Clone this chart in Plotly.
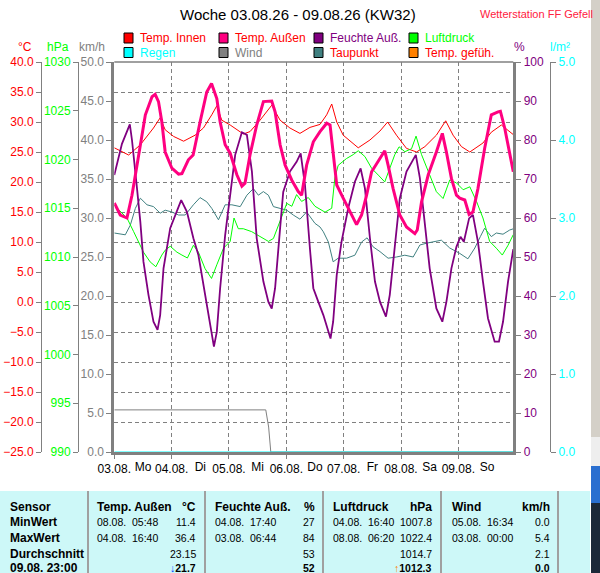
import plotly.graph_objects as go

W, H = 600, 573

std_aussen = [0, 2.5, 5.3, 7.4, 9.5, 10.9, 13.0, 15.8, 17.1, 18.5, 19.9, 21.3, 24.1, 26.9, 28.3,
              31.0, 33.0, 35.9, 38.7, 40.7, 42.9, 44.3, 46.4, 48.5, 51.3, 53.4, 54.7, 56.8, 59.6,
              62.4, 65.9, 67.3, 69.4, 71.5, 74.3, 77.0, 78.4, 80.5, 83.3, 86.1, 88.9, 90.3, 91.6,
              93.1, 95.8, 98.6, 101.4, 103.5, 105.6, 107.7, 110.5, 113.2, 114.6, 116.7, 119.5,
              122.3, 125.8, 126.8, 128.6, 131.4, 134.8, 137.3, 139.0, 141.1, 143.2, 144.6, 146.7,
              148.5, 150.1, 152.2, 155.0, 157.8, 160.6, 161.6, 163.4, 165.5, 167.0]
temp_aussen = [16.5, 14.5, 14.0, 17.8, 22.8, 26.2, 31.2, 34.2, 34.6, 33.4, 30.0, 25.0, 22.3, 21.3, 21.4,
               23.7, 24.5, 30.0, 35.0, 36.4, 33.9, 30.0, 26.2, 24.8, 21.2, 19.3, 19.8, 24.5, 29.5,
               33.4, 33.5, 31.7, 26.2, 22.8, 20.3, 18.4, 17.8, 22.8, 26.7, 28.4, 29.8, 29.5, 24.5,
               19.5, 17.3, 15.0, 12.9, 14.5, 17.8, 21.7, 23.4, 25.2, 22.8, 18.9, 14.5,
               12.5, 11.4, 12.0, 16.7, 21.2, 25.0, 28.1, 25.0, 20.6, 17.8, 17.3, 17.0,
               14.6, 15.0, 18.9, 25.6, 31.2, 31.7, 31.8, 29.0, 25.0, 21.7]

std_innen = [0, 6.0, 10.9, 16.4, 19.2, 21.3, 24.8, 29.0, 33.8, 37.3, 40.8, 42.9, 45.0, 48.5, 54.0,
             56.8, 61.0, 65.9, 69.4, 73.5, 77.7, 81.9, 86.1, 88.9, 91.0, 93.1, 95.8, 102.1, 107.0,
             111.2, 114.4, 118.1, 122.3, 126.5, 130.0, 134.8, 138.7, 141.8, 145.3, 148.8, 154.3,
             157.8, 162.0, 167.0]
temp_innen = [25.7, 24.5, 26.2, 29.0, 30.7, 28.7, 27.6, 26.8, 27.8, 29.0, 31.2, 32.7, 30.3, 29.5, 28.0,
              28.4, 30.3, 32.8, 30.3, 29.0, 28.1, 29.1, 29.6, 31.2, 33.0, 30.0, 27.8, 25.7, 27.0,
              28.5, 30.0, 27.8, 25.6, 25.0, 25.9, 27.8, 30.2, 27.8, 25.9, 25.0, 26.5,
              28.3, 29.5, 27.9]

std_feuchte = [0, 3.2, 6.5, 7.4, 9.5, 10.9, 12.2, 14.3, 16.4, 18.1, 19.2, 20.6, 23.4, 25.5, 28.0,
               30.4, 33.1, 35.2, 38.0, 40.1, 41.7, 42.9, 44.3, 46.4, 48.5, 50.6, 53.4, 55.5, 57.6,
               59.6, 62.4, 64.5, 65.9, 67.3, 69.4, 70.7, 73.5, 76.3, 78.0, 79.8, 81.9, 83.3, 85.4,
               87.5, 90.5, 91.6, 93.1, 95.1, 97.9, 100.7, 103.1, 104.9, 107.0, 109.1, 111.2, 113.7,
               115.3, 117.4, 119.5, 122.3, 126.2, 127.9, 130.0, 132.0, 134.8, 137.3, 139.0, 141.1,
               143.2, 144.9, 146.3, 148.5, 150.1, 152.2, 154.3, 156.4, 159.2, 161.0, 162.7, 164.8,
               167.0]
feuchte = [71, 79, 84, 80, 67.6, 59, 48.8, 40.3, 33.4, 31.3, 35.1, 47.1, 57.4, 60.8, 64.6,
           61.6, 54.8, 50.5, 40.3, 31.7, 27, 30.8, 42, 55.6, 65.9, 76.2, 82, 81.3, 71.9,
           54.8, 43.7, 38.5, 36.8, 42, 57.4, 66.7, 71.9, 74.4, 76.6, 68.5, 52, 42, 38.5,
           35.1, 29.1, 33.4, 45.4, 53.9, 62.5, 69.3, 72.7, 67.6, 54.8, 43.7, 38.5, 34.7,
           40.3, 53.1, 65, 71.9, 76.2, 70.2, 59, 47.1, 36.8, 33.4, 38.5, 47.1,
           52.6, 55.2, 53.9, 59.9, 60.8, 53.9, 43.7, 34.3, 28.3, 28.3, 33.4, 43.7,
           52]

std_druck = [0, 5.3, 8.1, 12.2, 15.0, 17.4, 19.9, 21.3, 23.4, 26.2, 28.3, 30.6, 33.1, 35.2, 38.0,
             40.7, 42.9, 45.7, 48.5, 50.1, 51.9, 54.0, 57.5, 61.0, 64.5, 66.6, 69.4, 72.2, 74.3,
             76.3, 78.4, 81.2, 84.0, 88.2, 91.0, 92.3, 93.7, 97.2, 100.0, 102.1, 104.9, 107.7,
             110.5, 113.2, 115.3, 117.4, 119.2, 121.6, 124.4, 126.3, 128.6, 132.0, 134.8, 137.6,
             140.4, 143.2, 146.0, 148.8, 151.6, 154.3, 157.1, 159.9, 162.4, 164.8, 167.0]
luftdruck = [1015.3, 1014.0, 1012.6, 1010.5, 1009.5, 1009.0, 1010.2, 1010.7, 1011.1, 1010.5, 1010.2,
             1009.9, 1011.2, 1010.5, 1008.8, 1007.8, 1009.2, 1010.9, 1011.6, 1014.0, 1012.9, 1012.9,
             1012.6, 1012.1, 1011.6, 1011.9, 1013.6, 1015.5, 1015.2, 1016.4, 1015.7, 1016.1, 1015.2,
             1014.6, 1015.0, 1018.1, 1019.4, 1020.1, 1020.5, 1020.9, 1020.3, 1019.1, 1018.4, 1017.7,
             1019.1, 1020.5, 1021.3, 1020.8, 1021.1, 1022.4, 1020.5, 1018.4, 1016.7, 1016.0, 1017.9,
             1017.6, 1016.9, 1017.2, 1015.7, 1014.0, 1011.6, 1010.9, 1010.2, 1011.2, 1012.3]

std_taupunkt = [0, 4.6, 6.7, 8.8, 10.9, 13.7, 16.4, 19.2, 21.3, 24.1, 26.9, 29.7, 33.1, 35.9, 38.7,
                40.8, 43.6, 46.4, 49.2, 52.7, 55.5, 58.2, 60.3, 62.4, 64.5, 66.6, 69.4, 72.2, 74.9,
                77.7, 80.5, 84.0, 86.1, 87.5, 89.6, 91.6, 93.7, 97.2, 100.7, 103.5, 105.8, 108.3,
                111.2, 114.6, 118.1, 121.6, 125.1, 127.9, 130.7, 133.4, 136.9, 140.4, 144.6, 148.0,
                150.9, 153.2, 155.0, 157.8, 159.9, 162.7, 165.5, 167.0]
taupunkt = [11.5, 11.2, 12.8, 15.6, 17.3, 16.2, 15.9, 14.8, 15.3, 15.0, 14.5, 14.5, 16.2, 17.4, 16.7,
            15.6, 13.7, 16.2, 16.2, 15.9, 17.8, 18.9, 17.8, 18.4, 17.8, 15.9, 15.6, 15.3, 14.5,
            13.8, 15.0, 13.1, 12.5, 11.7, 10.0, 6.7, 7.3, 7.3, 7.8, 10.0, 10.7, 9.2,
            8.4, 7.3, 7.5, 7.8, 7.5, 9.5, 9.8, 10.0, 10.3, 9.0, 8.1, 7.2,
            9.0, 10.9, 12.3, 10.9, 11.5, 11.3, 12.0, 12.2]

std_wind = [0, 63.4, 64.6, 65.5, 167.0]
wind = [5.4, 5.4, 3.2, 0.0, 0.0]

std_regen = [0, 24, 48, 72, 96, 120, 144, 167]
regen = [0.0, 0.0, 0.0, 0.0, 0.0, 0.0, 0.0, 0.0]

tage = ["03.08.", "04.08.", "05.08.", "06.08.", "07.08.", "08.08.", "09.08."]
wochentage = ["Mo", "Di", "Mi", "Do", "Fr", "Sa", "So"]

legende_namen = ["Temp. Innen", "Temp. Außen", "Feuchte Auß.", "Luftdruck",
                 "Regen", "Wind", "Taupunkt", "Temp. gefüh."]
legende_farben = ["#ff0000", "#ff0080", "#800080", "#00ff00",
                  "#00ffff", "#808080", "#408080", "#ff8000"]
legende_text = ["#ff0000", "#ff0000", "#800080", "#00ff00",
                "#00ffff", "#808080", "#ff0000", "#ff0000"]

# Tabelle
tab_kopf = ["Sensor", "Temp. Außen", "°C", "Feuchte Auß.", "%", "Luftdruck", "hPa", "Wind", "km/h"]
tab_zeilen = ["MinWert", "MaxWert", "Durchschnitt", "09.08. 23:00"]
tab_aussen_zeit = ["08.08.\u00a0 05:48", "04.08.\u00a0 16:40", "", ""]
tab_aussen_wert = ["11.4", "36.4", "23.15", "<b><span style='color:#0040ff'>↓</span>21.7</b>"]
tab_feuchte_zeit = ["04.08.\u00a0 17:40", "03.08.\u00a0 06:44", "", ""]
tab_feuchte_wert = ["27", "84", "53", "<b>52</b>"]
tab_druck_zeit = ["04.08.\u00a0 16:40", "08.08.\u00a0 06:20", "", ""]
tab_druck_wert = ["1007.8", "1022.4", "1014.7", "<b><span style='color:#ff8000'>↑</span>1012.3</b>"]
tab_wind_zeit = ["05.08.\u00a0 16:34", "03.08.\u00a0 00:00", "", ""]
tab_wind_wert = ["0.0", "5.4", "2.1", "<b>0.0</b>"]


def px(x):
    return x / W


def py(y):
    return 1 - y / H


GRAU = "#808080"
FONT = "Liberation Sans, Arial, sans-serif"

fig = go.Figure()
fig.add_trace(go.Scatter(x=std_innen, y=temp_innen, yaxis="y", mode="lines",
                         line=dict(color="#ff0000", width=1)))
fig.add_trace(go.Scatter(x=std_taupunkt, y=taupunkt, yaxis="y", mode="lines",
                         line=dict(color="#408080", width=1)))
fig.add_trace(go.Scatter(x=std_druck, y=luftdruck, yaxis="y2", mode="lines",
                         line=dict(color="#00ff00", width=1)))
fig.add_trace(go.Scatter(x=std_wind, y=wind, yaxis="y3", mode="lines",
                         line=dict(color=GRAU, width=1)))
fig.add_trace(go.Scatter(x=std_feuchte, y=feuchte, yaxis="y4", mode="lines",
                         line=dict(color="#800080", width=1.8)))
fig.add_trace(go.Scatter(x=std_regen, y=regen, yaxis="y5", mode="lines",
                         line=dict(color="#00ffff", width=1)))
fig.add_trace(go.Scatter(x=std_aussen, y=temp_aussen, yaxis="y6", mode="lines",
                         line=dict(color="#ff0080", width=3)))
# nur fuer die Wochentags-Beschriftung
fig.add_trace(go.Scatter(x=std_aussen, y=temp_aussen, xaxis="x2", yaxis="y6", mode="lines",
                         line=dict(color="rgba(0,0,0,0)", width=0), hoverinfo="skip"))

xdom = [px(114.3), px(513.3)]
ydom = [py(452), py(62)]

ach = dict(showgrid=False, zeroline=False, showline=True, linecolor=GRAU, linewidth=1,
           ticks="outside", ticklen=5, tickcolor=GRAU, overlaying="y", automargin=False)

fig.update_layout(
    width=W, height=H, margin=dict(l=0, r=0, t=0, b=0, autoexpand=False),
    paper_bgcolor="white", plot_bgcolor="white", showlegend=False,
    font=dict(family=FONT, size=12, color="black"),
    xaxis=dict(domain=xdom, range=[0, 167], tickvals=[24 * i for i in range(7)], ticktext=tage,
               showgrid=True, gridcolor=GRAU, griddash="4px,3px", gridwidth=1, zeroline=False,
               showline=True, linecolor=GRAU, linewidth=3, ticks="outside", ticklen=4,
               tickcolor=GRAU, tickfont=dict(size=12, color="black"), anchor="y",
               automargin=False),
    xaxis2=dict(domain=xdom, range=[0, 167], overlaying="x", anchor="y", side="bottom",
                tickvals=[24 * i + 12 for i in range(7)], ticktext=wochentage, showgrid=False,
                zeroline=False, ticks="outside", ticklen=4, tickcolor="rgba(0,0,0,0)",
                tickfont=dict(size=12, color="black"), automargin=False),
    yaxis=dict(domain=ydom, range=[-25, 40], dtick=5, showgrid=True, gridcolor=GRAU,
               griddash="4px,3px", gridwidth=1, zeroline=False, showticklabels=False,
               ticks="", showline=False, anchor="x", automargin=False),
    yaxis2=dict(ach, range=[990, 1030], dtick=5, anchor="free", position=px(78), side="left",
                tickfont=dict(color="#00ff00", size=12)),
    yaxis3=dict(ach, range=[0, 50], dtick=5, tickformat=".1f", anchor="x", side="left",
                linewidth=3, tickfont=dict(color=GRAU, size=12)),
    yaxis4=dict(ach, range=[0, 100], dtick=10, anchor="x", side="right", linewidth=3,
                tickfont=dict(color="#800080", size=12)),
    yaxis5=dict(ach, range=[0, 5], dtick=1, tickformat=".1f", anchor="free", position=px(550),
                side="right", tickfont=dict(color="#00ffff", size=12)),
    yaxis6=dict(ach, range=[-25, 40], dtick=5, tickformat=".1f", anchor="free", position=px(41),
                side="left", tickfont=dict(color="#ff0000", size=12)),
)

shapes = []
annos = []


def text(x, y, t, color="black", size=12, xanchor="left"):
    annos.append(dict(x=px(x), y=py(y), xref="paper", yref="paper", text=t, showarrow=False,
                      xanchor=xanchor, yanchor="middle", font=dict(color=color, size=size, family=FONT)))


def rect(x0, y0, x1, y1, fill):
    shapes.append(dict(type="rect", xref="paper", yref="paper", x0=px(x0), x1=px(x1),
                       y0=py(y1), y1=py(y0), fillcolor=fill, line=dict(width=0), layer="below"))


# Rahmen oben
shapes.append(dict(type="line", xref="x domain", yref="y domain", x0=0, x1=1, y0=1, y1=1,
                   line=dict(color=GRAU, width=1.5)))

text(298, 15, "Woche 03.08.26 - 09.08.26 (KW32)", size=15, xanchor="center")
text(478, 14, "Wetterstation FF Gefell", color="#ff2040", size=11)

# Legende
for i, name in enumerate(legende_namen):
    bx = 124 + 95 * (i % 4)
    by = 33 + 14.5 * (i // 4)
    shapes.append(dict(type="rect", xref="paper", yref="paper", x0=px(bx), x1=px(bx + 9),
                       y0=py(by + 10), y1=py(by), fillcolor=legende_farben[i],
                       line=dict(color="black", width=1)))
    text(bx + 14, by + 5, name, color=legende_text[i], size=12)

# Einheiten
text(25, 47, "°C", color="#ff0000", xanchor="center")
text(58, 47, "hPa", color="#00ff00", xanchor="center")
text(92, 47, "km/h", color=GRAU, xanchor="center")
text(519, 47, "%", color="#800080", xanchor="center")
text(560, 47, "l/m²", color="#00ffff", xanchor="center")

# Tabelle
rect(0, 491, 590, 573, "#cdf8f8")
for sx in [88, 205, 323, 441, 558]:
    shapes.append(dict(type="line", xref="paper", yref="paper", x0=px(sx), x1=px(sx),
                       y0=py(491), y1=py(573), line=dict(color="#a0a0a0", width=2)))

zeilen_y = [522, 538, 554, 568]
kopf_x = [(8, "left"), (95, "left"), (198, "right"), (213, "left"), (317, "right"),
          (331, "left"), (434, "right"), (450, "left"), (552, "right")]
for (kx, anc), k in zip(kopf_x, tab_kopf):
    text(kx, 507, "<b>" + k + "</b>", size=12, xanchor=anc)
for i, zy in enumerate(zeilen_y):
    text(8, zy, "<b>" + tab_zeilen[i] + "</b>", size=12)
    text(95, zy, tab_aussen_zeit[i], size=10.5)
    text(198, zy, tab_aussen_wert[i], size=10.5, xanchor="right")
    text(213, zy, tab_feuchte_zeit[i], size=10.5)
    text(317, zy, tab_feuchte_wert[i], size=10.5, xanchor="right")
    text(331, zy, tab_druck_zeit[i], size=10.5)
    text(434, zy, tab_druck_wert[i], size=10.5, xanchor="right")
    text(450, zy, tab_wind_zeit[i], size=10.5)
    text(552, zy, tab_wind_wert[i], size=10.5, xanchor="right")

# Fensterrand rechts
rect(591, 0, 600, 437, "#d4d0c8")
rect(591, 437, 600, 466, "#eeeeee")
rect(591, 466, 600, 503, "#2a6fd0")
rect(591, 503, 600, 573, "#1c2838")

fig.update_layout(shapes=shapes, annotations=annos)
fig.write_html("out.html", config={"displayModeBar": False},
               post_script="document.body.style.margin='0';document.body.style.overflow='hidden';")
